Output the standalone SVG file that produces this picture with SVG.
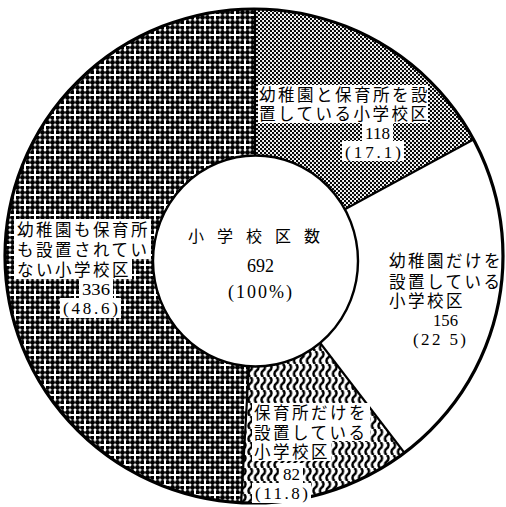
<svg xmlns="http://www.w3.org/2000/svg" width="506" height="507" viewBox="0 0 506 507">
<style>
.jp{font-family:"Liberation Serif","Noto Sans CJK JP","Noto Sans CJK SC",serif;font-size:16.5px;letter-spacing:2.5px;fill:#000}
.num{font-family:"Liberation Serif","Times New Roman",serif;font-size:17px;letter-spacing:0;fill:#000}
.bg{fill:#fff}
.div{stroke:#000;stroke-width:2.2;fill:none}
</style>
<defs>
<pattern id="pDots" width="4" height="4" patternUnits="userSpaceOnUse">
<rect width="4" height="4" fill="#fff"/>
<circle cx="1" cy="1" r="1.2" fill="#000"/>
<circle cx="3" cy="3" r="1.2" fill="#000"/>
</pattern>
<pattern id="pCross" width="20" height="20" patternUnits="userSpaceOnUse">
<rect width="20" height="20" fill="#fff"/>
<g fill="#000">
<circle cx="2.5" cy="2.5" r="2.45"/><circle cx="7.5" cy="2.5" r="2.45"/><circle cx="12.5" cy="2.5" r="2.45"/><circle cx="17.5" cy="2.5" r="2.45"/>
<circle cx="2.5" cy="7.5" r="2.45"/><circle cx="7.5" cy="7.5" r="2.45"/><circle cx="12.5" cy="7.5" r="2.45"/><circle cx="17.5" cy="7.5" r="2.45"/>
<circle cx="2.5" cy="12.5" r="2.45"/><circle cx="7.5" cy="12.5" r="2.45"/><circle cx="12.5" cy="12.5" r="2.45"/><circle cx="17.5" cy="12.5" r="2.45"/>
<circle cx="2.5" cy="17.5" r="2.45"/><circle cx="7.5" cy="17.5" r="2.45"/><circle cx="12.5" cy="17.5" r="2.45"/><circle cx="17.5" cy="17.5" r="2.45"/>
</g>
<g fill="#fff">
<rect x="-1" y="4" width="12" height="2"/><rect x="4" y="-1" width="2" height="12"/>
<rect x="9" y="14" width="12" height="2"/><rect x="14" y="9" width="2" height="12"/>
</g>
</pattern>
<pattern id="pWave" width="6.5" height="13" patternUnits="userSpaceOnUse">
<rect width="6.5" height="13" fill="#fff"/>
<path d="M3.25,0 C5.6,1.6 5.6,4.9 3.25,6.5 C0.9,8.1 0.9,11.4 3.25,13" fill="none" stroke="#000" stroke-width="2.5"/>
</pattern>
<clipPath id="outerClip"><ellipse cx="254" cy="256" rx="249" ry="247"/></clipPath>
</defs>

<g clip-path="url(#outerClip)">
<g id="seg-both"><polygon points="255,258 255,-20 700,-20 700,16.6" fill="url(#pDots)"/></g>
<g id="seg-kinder-only"><polygon points="255,258 700,16.6 700,700 594,700" fill="#fff"/></g>
<g id="seg-nursery-only"><polygon points="255,258 594,700 230,700" fill="url(#pWave)"/></g>
<g id="seg-neither"><polygon points="255,258 230,700 -200,700 -200,-20 255,-20" fill="url(#pCross)"/></g>
<g id="connectors">
<line class="div" x1="255" y1="258" x2="255" y2="-20"/>
<line class="div" x1="255" y1="258" x2="700" y2="16.6"/>
<line class="div" x1="255" y1="258" x2="594" y2="700"/>
<line class="div" x1="255" y1="258" x2="230" y2="700"/>
</g>
</g>
<ellipse cx="254" cy="256" rx="249" ry="247" fill="none" stroke="#000" stroke-width="3.2"/>

<g id="center">
<ellipse cx="255.5" cy="261" rx="102.5" ry="105.5" fill="#fff" stroke="#000" stroke-width="2.4"/>
<text class="jp" x="188" y="242" style="letter-spacing:13px;font-size:16px">小学校区数</text>
<text class="num" x="247" y="272" style="font-size:18px" textLength="27" lengthAdjust="spacingAndGlyphs">692</text>
<text class="num" x="228" y="298" style="font-size:18px" textLength="64" lengthAdjust="spacing">(100%)</text>
</g>

<g id="label-both">
<rect class="bg" x="258" y="85" width="170" height="19"/>
<rect class="bg" x="258" y="104" width="170" height="19"/>
<rect class="bg" x="362" y="123" width="31" height="18"/>
<rect class="bg" x="342" y="141" width="62" height="20"/>
<text class="jp" x="259" y="101">幼稚園と保育所を設</text>
<text class="jp" x="259" y="120">置している小学校区</text>
<text class="num" x="365" y="139" textLength="25" lengthAdjust="spacingAndGlyphs">118</text>
<text class="num" x="345" y="158" textLength="56" lengthAdjust="spacing">(17.1)</text>
</g>

<g id="label-kinder-only">
<text class="jp" x="389" y="267">幼稚園だけを</text>
<text class="jp" x="389" y="288">設置している</text>
<text class="jp" x="389" y="307">小学校区</text>
<text class="num" x="433" y="326" textLength="25" lengthAdjust="spacingAndGlyphs">156</text>
<text class="num" x="413" y="345" textLength="53" lengthAdjust="spacing">(22 5)</text>
</g>

<g id="label-nursery-only">
<rect class="bg" x="252" y="403" width="118" height="19"/>
<rect class="bg" x="252" y="422" width="118" height="19"/>
<rect class="bg" x="252" y="441" width="79" height="20"/>
<rect class="bg" x="279" y="463" width="24" height="20"/>
<rect class="bg" x="252" y="483" width="59" height="20"/>
<text class="jp" x="254" y="419">保育所だけを</text>
<text class="jp" x="254" y="439">設置している</text>
<text class="jp" x="254" y="458">小学校区</text>
<text class="num" x="283" y="480" textLength="17" lengthAdjust="spacingAndGlyphs">82</text>
<text class="num" x="255" y="499" textLength="53" lengthAdjust="spacing">(11.8)</text>
</g>

<g id="label-neither">
<rect class="bg" x="14" y="219" width="137" height="20"/>
<rect class="bg" x="14" y="239" width="137" height="20"/>
<rect class="bg" x="14" y="259" width="118" height="20"/>
<rect class="bg" x="79" y="279" width="34" height="19"/>
<rect class="bg" x="60" y="298" width="61" height="20"/>
<text class="jp" x="17" y="236">幼稚園も保育所</text>
<text class="jp" x="17" y="256">も設置されてい</text>
<text class="jp" x="17" y="276">ない小学校区</text>
<text class="num" x="82" y="295" textLength="28" lengthAdjust="spacingAndGlyphs">336</text>
<text class="num" x="63" y="314" textLength="55" lengthAdjust="spacing">(48.6)</text>
</g>
</svg>
